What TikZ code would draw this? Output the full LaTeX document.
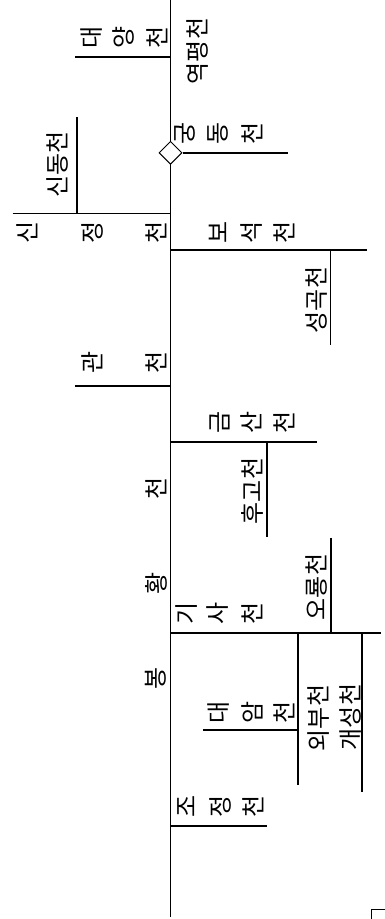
\documentclass[tikz,border=0pt]{standalone}
\usepackage{fontspec}
\newfontfamily\kr{Noto Sans CJK KR}
\usetikzlibrary{shapes.geometric}
\begin{document}
\begin{tikzpicture}[x=1pt,y=-1pt,
  riv/.style={line width=1.6pt},
  ch/.style={rotate=90, inner sep=0pt, font=\kr\fontsize{24}{24}\selectfont}]
\useasboundingbox (0,0) rectangle (385,919);
% main trunk
\coordinate (T0) at (170.5,0);
\coordinate (T1) at (170.5,917);
\draw[riv] (T0) -- (T1);
% branch coordinates
\coordinate (dyA) at (75,57);      \coordinate (dyB) at (170.5,57);
\coordinate (gdB) at (288,152.8);
\coordinate (sjA) at (12.5,213.3); \coordinate (sjB) at (170.5,213.3);
\coordinate (sdA) at (77,117);     \coordinate (sdB) at (77,213.3);
\coordinate (bsA) at (170.5,250);  \coordinate (bsB) at (367,250);
\coordinate (sgA) at (330.5,250);  \coordinate (sgB) at (330.5,345);
\coordinate (gcA) at (75,386);     \coordinate (gcB) at (170.5,386);
\coordinate (gsA) at (170.5,442);  \coordinate (gsB) at (317,442);
\coordinate (hgA) at (267,442);    \coordinate (hgB) at (267,537);
\coordinate (orA) at (331,538);    \coordinate (orB) at (331,633);
\coordinate (ksA) at (170.5,633);  \coordinate (ksB) at (381,633);
\coordinate (wbA) at (298,633);    \coordinate (wbB) at (298,785);
\coordinate (kyA) at (362,633);    \coordinate (kyB) at (362,792);
\coordinate (daA) at (203,730);    \coordinate (daB) at (298,730);
\coordinate (jjA) at (170.5,826);  \coordinate (jjB) at (267,826);
\coordinate (mkA) at (371,919);    \coordinate (mkB) at (371,909.5);
\coordinate (mkC) at (385,909.5);
% branches
\draw[riv] (dyA) -- (dyB);
\draw[riv] (sjA) -- (sjB);
\draw[riv] (sdA) -- (sdB);
\draw[riv] (bsA) -- (bsB);
\draw[riv] (sgA) -- (sgB);
\draw[riv] (gcA) -- (gcB);
\draw[riv] (gsA) -- (gsB);
\draw[riv] (hgA) -- (hgB);
\draw[riv] (orA) -- (orB);
\draw[riv] (ksA) -- (ksB);
\draw[riv] (wbA) -- (wbB);
\draw[riv] (kyA) -- (kyB);
\draw[riv] (daA) -- (daB);
\draw[riv] (jjA) -- (jjB);
\draw[line width=1pt] (mkA) -- (mkB) -- (mkC);
% junction diamond
\node[diamond, draw, fill=white, line width=1pt, minimum size=23pt, inner sep=0pt] (jn) at (170.5,152.8) {};
\draw[riv] (jn.east) -- (gdB);
% stacked labels (one character each)
\node[ch] (dy1) at (92,37) {대};
\node[ch] (dy2) at (123,37) {양};
\node[ch] (dy3) at (157,37) {천};
\node[ch] (gd1) at (185,133) {궁};
\node[ch] (gd2) at (218,133) {동};
\node[ch] (gd3) at (252,133) {천};
\node[ch] (sj1) at (27,232) {신};
\node[ch] (sj2) at (92,232) {정};
\node[ch] (sj3) at (156,232) {천};
\node[ch] (bs1) at (218,232) {보};
\node[ch] (bs2) at (252,232) {석};
\node[ch] (bs3) at (284,232) {천};
\node[ch] (gc1) at (92,362) {관};
\node[ch] (gc2) at (156,362) {천};
\node[ch] (gs1) at (220,422) {금};
\node[ch] (gs2) at (251,422) {산};
\node[ch] (gs3) at (284,422) {천};
\node[ch] (ks1) at (187,613) {기};
\node[ch] (ks2) at (218,613) {사};
\node[ch] (ks3) at (252,613) {천};
\node[ch] (da1) at (219,712) {대};
\node[ch] (da2) at (252,712) {암};
\node[ch] (da3) at (284,712) {천};
\node[ch] (jj1) at (187,806) {조};
\node[ch] (jj2) at (220,806) {정};
\node[ch] (jj3) at (253,806) {천};
% main river name along trunk
\node[ch] (bh1) at (156,678) {봉};
\node[ch] (bh2) at (156,583) {황};
\node[ch] (bh3) at (156,488) {천};
% words along vertical tributaries
\node[ch] (ypc) at (198,51) {역평천};
\node[ch] (sdc) at (58,164.5) {신동천};
\node[ch] (sgc) at (317,300) {성곡천};
\node[ch] (hgc) at (252,491) {후고천};
\node[ch] (orc) at (317,587) {오룡천};
\node[ch] (wbc) at (319,718) {외부천};
\node[ch] (kyc) at (351,717) {개성천};
\end{tikzpicture}
\end{document}
